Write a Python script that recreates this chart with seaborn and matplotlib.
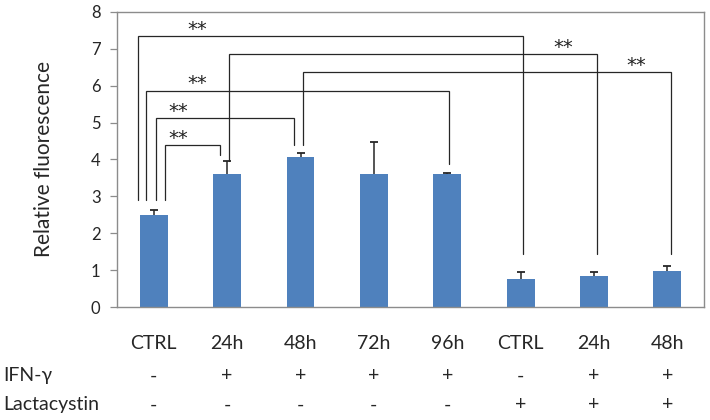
import numpy as np
import pandas as pd
import matplotlib
matplotlib.use('Agg')
import matplotlib.pyplot as plt
import matplotlib.transforms as mtransforms
import seaborn as sns

# Daten
groups = ['CTRL', '24h', '48h', '72h', '96h', 'CTRL', '24h', '48h']
means = [2.50, 3.62, 4.08, 3.62, 3.60, 0.75, 0.84, 0.97]
errors = [0.13, 0.33, 0.10, 0.85, 0.03, 0.19, 0.10, 0.13]
ifn_gamma = ['-', '+', '+', '+', '+', '-', '+', '+']
lactacystin = ['-', '-', '-', '-', '-', '+', '+', '+']

# Signifikanz-Klammern: Gruppenpaare, Hoehe der Linie, Enden der Fuesse
sig_left = [0, 1, 2, 0, 0, 0]
sig_right = [5, 6, 7, 4, 2, 1]
sig_level = [7.35, 6.86, 6.36, 5.87, 5.13, 4.39]
sig_left_foot = [2.90, 3.95, 4.40, 2.90, 2.90, 2.90]
sig_right_foot = [1.45, 1.45, 1.45, 3.87, 4.40, 4.13]
sig_text = ['**', '**', '**', '**', '**', '**']

# Layout der Klammern (Versatz zur Balkenmitte, Lage der Sterne)
left_offset = [-0.22, 0.03, 0.03, -0.10, 0.03, 0.15]
right_offset = [0.03, 0.04, 0.05, 0.03, -0.09, -0.10]
star_x = [0.59, 5.58, 6.58, 0.59, 0.33, 0.33]

BAR_COLOR = '#4F81BD'
LINE_COLOR = '#262626'
FRAME_COLOR = '#8C8C8C'

sns.set_style('white')
plt.rcParams['font.family'] = ['Lato', 'DejaVu Sans']

df = pd.DataFrame({'slot': list(range(len(groups))), 'value': means})

fig = plt.figure(figsize=(7.1, 4.2), dpi=100)
ax = fig.add_axes([0.165, 0.269, 0.8265, 0.7025])

sns.barplot(data=df, x='slot', y='value', order=list(range(len(groups))),
            color=BAR_COLOR, saturation=1, width=0.38, errorbar=None,
            linewidth=0, ax=ax)

# nur nach oben gerichtete Fehlerbalken (ohne Kappe an der Balkenoberkante)
x_pos = np.arange(len(groups))
tops = np.array(means) + np.array(errors)
ax.vlines(x_pos, means, tops, color=LINE_COLOR, linewidth=1.1, zorder=3)
ax.plot(x_pos, tops, linestyle='none', marker='_', markersize=6,
        markeredgewidth=1.3, color=LINE_COLOR, zorder=3)

# Klammern zeichnen
for i in range(len(sig_left)):
    xl = sig_left[i] + left_offset[i]
    xr = sig_right[i] + right_offset[i]
    h = sig_level[i]
    ax.plot([xl, xl, xr, xr],
            [sig_left_foot[i], h, h, sig_right_foot[i]],
            color=LINE_COLOR, linewidth=0.9, solid_joinstyle='miter',
            zorder=2)
    ax.text(star_x[i], h + 0.03, sig_text[i], ha='center', va='baseline',
            fontsize=14, color='#222222', family='DejaVu Sans')

ax.set_xlim(-0.5, len(groups) - 0.5)
ax.set_ylim(0, 8)
ax.set_yticks(range(0, 9))
ax.tick_params(axis='y', labelsize=12, length=5, width=0.9,
               color=FRAME_COLOR, pad=7, left=True)
ax.set_xticks(x_pos)
ax.set_xticklabels(groups)
ax.tick_params(axis='x', labelsize=14, length=0, pad=20)
ax.set_xlabel('')
ax.set_ylabel('Relative fluorescence', fontsize=15)
ax.yaxis.set_label_coords(-0.108, 0.5)

for side in ['left', 'right', 'top', 'bottom']:
    ax.spines[side].set_visible(True)
    ax.spines[side].set_color(FRAME_COLOR)
    ax.spines[side].set_linewidth(1.0)

# Behandlungszeilen unter der Achse
trans = mtransforms.blended_transform_factory(ax.transData, fig.transFigure)
fig.text(0.004, 0.105, 'IFN-\u03b3', fontsize=14, va='center', ha='left')
fig.text(0.004, 0.036, 'Lactacystin', fontsize=14, va='center', ha='left')
for i in range(len(groups)):
    ax.text(x_pos[i], 0.105, ifn_gamma[i], transform=trans, fontsize=14,
            ha='center', va='center', clip_on=False)
    ax.text(x_pos[i], 0.036, lactacystin[i], transform=trans, fontsize=14,
            ha='center', va='center', clip_on=False)

fig.savefig('out.png', dpi=100)
